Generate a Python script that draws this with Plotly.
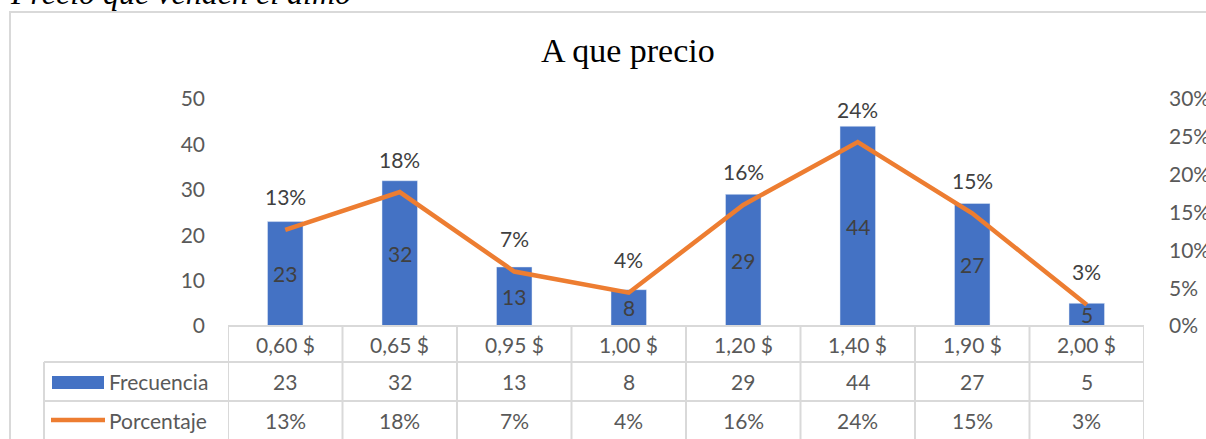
import plotly.graph_objects as go

categories = ["0,60 $", "0,65 $", "0,95 $", "1,00 $", "1,20 $", "1,40 $", "1,90 $", "2,00 $"]
frecuencia = [23, 32, 13, 8, 29, 44, 27, 5]
porcentaje = [0.127, 0.177, 0.072, 0.044, 0.160, 0.243, 0.149, 0.028]
series_names = ["Frecuencia", "Porcentaje"]
title_text = "A que precio"
caption_text = "Precio que venden el almo"

BLUE = "#4472C4"
ORANGE = "#ED7D31"
GRID = "#D9D9D9"
TXT = "#595959"
LBL = "#404040"
SANS = "Lato, 'Open Sans', sans-serif"
SERIF = "'Liberation Serif', 'Times New Roman', serif"
FS = 21

W, H = 1206, 439
L, R, T, B = 228, 1144, 99, 326


def px(x):
    return (x - L) / (R - L)


def py(y):
    return (B - y) / (B - T)


fig = go.Figure()
idx = list(range(len(categories)))
fig.add_trace(go.Bar(x=idx, y=frecuencia, marker_color=BLUE, width=0.31,
                     name=series_names[0], hoverinfo="skip"))
fig.add_trace(go.Scatter(x=idx, y=porcentaje, yaxis="y2", mode="lines",
                         line=dict(color=ORANGE, width=4.5), name=series_names[1],
                         hoverinfo="skip"))

ann = []
shapes = []
# bar value labels (centered inside)
for i, v in enumerate(frecuencia):
    ann.append(dict(x=i, y=v / 2, xref="x", yref="y", text=str(v), showarrow=False,
                    xanchor="center", yanchor="middle",
                    font=dict(family=SANS, size=FS, color=LBL)))
# line labels above points
for i, p in enumerate(porcentaje):
    ann.append(dict(x=i, y=p, xref="x", yref="y2", text=f"{p:.0%}", showarrow=False,
                    xanchor="center", yanchor="middle", yshift=33,
                    font=dict(family=SANS, size=FS, color=LBL)))

# data table
row_hdr, row_f, row_p = py(344), py(381), py(420)
for i, c in enumerate(categories):
    for txt, yy in ((c, row_hdr), (str(frecuencia[i]), row_f), (f"{porcentaje[i]:.0%}", row_p)):
        ann.append(dict(x=i, y=yy, xref="x", yref="paper", text=txt, showarrow=False,
                        xanchor="center", yanchor="middle",
                        font=dict(family=SANS, size=FS, color=TXT)))
for name, yy in zip(series_names, [row_f, row_p]):
    ann.append(dict(x=px(107), y=yy, xref="paper", yref="paper", text=name,
                    xanchor="left", yanchor="middle", showarrow=False,
                    font=dict(family=SANS, size=FS, color=TXT)))

# table lines
n = len(categories)
for k in range(n + 1):
    shapes.append(dict(type="line", xref="x", yref="paper", x0=k - 0.5, x1=k - 0.5,
                       y0=py(326), y1=py(450), line=dict(color=GRID, width=2)))
shapes.append(dict(type="line", xref="paper", yref="paper", x0=px(44), x1=px(44),
                   y0=py(362), y1=py(450), line=dict(color=GRID, width=2)))
shapes.append(dict(type="line", xref="paper", yref="paper", x0=px(228), x1=px(1144),
                   y0=py(326), y1=py(326), line=dict(color=GRID, width=2)))
for yline in (362, 401):
    shapes.append(dict(type="line", xref="paper", yref="paper", x0=px(44), x1=px(1144),
                       y0=py(yline), y1=py(yline), line=dict(color=GRID, width=2)))
# legend keys
shapes.append(dict(type="rect", xref="paper", yref="paper", x0=px(52), x1=px(104),
                   y0=py(376), y1=py(389), fillcolor=BLUE, line=dict(width=0)))
shapes.append(dict(type="line", xref="paper", yref="paper", x0=px(51), x1=px(105),
                   y0=py(420), y1=py(420), line=dict(color=ORANGE, width=4.5)))
# chart border
shapes.append(dict(type="rect", xref="paper", yref="paper", x0=px(10), x1=px(1230),
                   y0=py(460), y1=py(12), line=dict(color=GRID, width=2),
                   fillcolor="rgba(0,0,0,0)", layer="below"))

# title and caption
ann.append(dict(x=px(628), y=py(50), xref="paper", yref="paper", text=title_text,
                xanchor="center", yanchor="middle", showarrow=False,
                font=dict(family=SERIF, size=34, color="#000000")))
ann.append(dict(x=px(8), y=py(-7), xref="paper", yref="paper", text=f"<i>{caption_text}</i>",
                xanchor="left", yanchor="middle", showarrow=False,
                font=dict(family=SERIF, size=32, color="#000000")))

fig.update_layout(
    width=W, height=H,
    margin=dict(l=L, r=W - R, t=T, b=H - B, pad=0, autoexpand=False),
    paper_bgcolor="white", plot_bgcolor="white",
    showlegend=False,
    xaxis=dict(range=[-0.5, n - 0.5], showticklabels=False, showgrid=False,
               zeroline=False, showline=False, fixedrange=True, automargin=False),
    yaxis=dict(range=[0, 50], dtick=10, showgrid=False, zeroline=False, showline=False,
               ticks="", ticklabelstandoff=22, automargin=False,
               tickfont=dict(family=SANS, size=FS, color=TXT)),
    yaxis2=dict(range=[0, 0.30], dtick=0.05, tickformat=".0%", overlaying="y",
                side="right", showgrid=False, zeroline=False, showline=False, ticks="",
                ticklabelstandoff=24, automargin=False,
                tickfont=dict(family=SANS, size=FS, color=TXT)),
    annotations=ann, shapes=shapes,
)

fig.write_html("out.html")
